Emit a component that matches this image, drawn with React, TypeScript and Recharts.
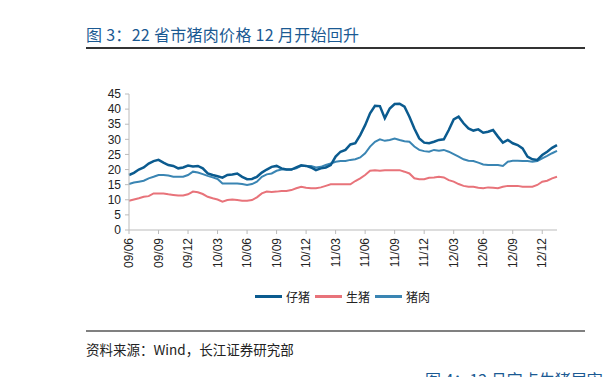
import React from "react";
import { LineChart, Line, XAxis, YAxis } from "recharts";

// 半月一个点，自 2009/06 起
const piglet = [
  18.2, 18.9, 20, 20.7, 22, 22.8, 23.2, 22.3, 21.5, 21.2, 20.4, 20.7, 21.3, 21, 21.2, 20.4,
  18.7, 18.2, 17.8, 17.3, 18.2, 18.4, 18.7, 17.6, 16.8, 16.9, 17.6, 19, 20, 20.9, 21.2, 20.4,
  20, 20, 20.7, 21.4, 21.2, 20.7, 19.8, 20.4, 20.7, 21.5, 24.3, 25.9, 26.5, 28.3, 28.7, 31.4,
  34.7, 38.6, 41.1, 41, 37, 40.2, 41.7, 41.8, 40.8, 37.5, 33.6, 30.3, 28.9, 28.7, 29.2, 29.8,
  30, 33.1, 36.6, 37.5, 35.3, 33.6, 32.9, 33.3, 32.2, 32.5, 33.1, 30.9, 28.9, 29.8, 28.7, 28.1,
  27, 24.3, 23.4, 23.2, 24.8, 25.9, 27.2, 28.1,
];
const hog = [
  9.7, 10.1, 10.5, 11, 11.2, 12.1, 12.1, 12.1, 11.8, 11.6, 11.4, 11.4, 11.8, 12.7, 12.5, 11.9,
  11, 10.5, 10.1, 9.4, 9.9, 10.1, 9.9, 9.7, 9.7, 9.9, 10.8, 12.1, 12.7, 12.6, 12.7, 12.9,
  12.9, 13.2, 13.8, 14.3, 14, 13.8, 13.8, 14.1, 14.6, 15.1, 15.1, 15.1, 15.1, 15.1, 16.2, 17.1,
  18.2, 19.6, 19.8, 19.6, 19.8, 19.8, 19.8, 19.8, 19.3, 18.7, 17.1, 16.8, 16.8, 17.3, 17.4, 17.6,
  17.4, 16.5, 16, 15.2, 14.6, 14.3, 14.3, 14, 13.8, 14.1, 14, 13.8, 14.3, 14.6, 14.6, 14.6,
  14.3, 14.3, 14.3, 14.9, 16, 16.3, 17.1, 17.6,
];
const pork = [
  15.2, 15.7, 16, 16.3, 17.1, 17.6, 18.2, 18.2, 18, 17.6, 17.6, 17.6, 18.2, 19.3, 19, 18.5,
  17.9, 17.4, 16.9, 15.4, 15.4, 15.4, 15.4, 15.2, 14.9, 15.2, 16, 17.6, 18.4, 18.7, 19.6, 20,
  20, 20, 20.4, 21.2, 21.2, 21.2, 20.7, 20.9, 21.5, 22, 22.6, 22.8, 22.8, 23.2, 23.4, 24,
  25.4, 27.6, 29.2, 30, 29.5, 29.8, 30.3, 29.8, 29.4, 29.2, 27.6, 26.5, 26.1, 25.9, 26.5, 26.2,
  26.5, 25.9, 25.1, 24.3, 23.4, 22.9, 22.8, 22.3, 21.7, 21.5, 21.5, 21.5, 21.2, 22.6, 22.9, 22.9,
  22.8, 22.8, 22.6, 22.8, 23.7, 24.5, 25.4, 26.2,
];
const tickLabels = [
  "09/06", "09/09", "09/12", "10/03", "10/06", "10/09", "10/12", "11/03",
  "11/06", "11/09", "11/12", "12/03", "12/06", "12/09", "12/12",
];
const yTicks = [0, 5, 10, 15, 20, 25, 30, 35, 40, 45];

const data = piglet.map((v, i) => ({ m: i * 0.5, piglet: v, hog: hog[i], pork: pork[i] }));
const xTicks = tickLabels.map((_, i) => i * 3);

const C_PIGLET = "#0B5B8F";
const C_HOG = "#E8737A";
const C_PORK = "#3A85B3";
const CJK = "'Noto Sans CJK SC', sans-serif";
const LATIN = "'Liberation Sans', Arial, sans-serif";

const XTick = ({ x, y, payload }: any) => (
  <text
    x={x}
    y={y + 2}
    transform={`rotate(-90 ${x} ${y + 2})`}
    textAnchor="end"
    dy="0.35em"
    fontSize={12}
    fontFamily={LATIN}
    fill="#222"
  >
    {tickLabels[Math.round(payload.value / 3)]}
  </text>
);

const legend = [
  { name: "仔猪", color: C_PIGLET },
  { name: "生猪", color: C_HOG },
  { name: "猪肉", color: C_PORK },
];

export default function App() {
  return (
    <div
      style={{ position: "absolute", left: 0, top: 0, width: 604, height: 377, overflow: "hidden", background: "#fff" }}
    >
      <div style={{ position: "absolute", left: 86, top: 22, fontSize: 16, letterSpacing: 0.3, fontFamily: CJK, color: "#1B5A93", whiteSpace: "pre" }}>
        {"图 3：22 省市猪肉价格 12 月开始回升"}
      </div>
      <div style={{ position: "absolute", left: 86, top: 47, width: 499, height: 1.5, background: "#333" }} />

      <div style={{ position: "absolute", left: 0, top: 0 }}>
        <LineChart width={604} height={290} data={data} margin={{ top: 94, right: 47, left: 89, bottom: 20 }}>
          <XAxis
            dataKey="m"
            type="number"
            domain={[0, 43.5]}
            ticks={xTicks}
            interval={0}
            tick={<XTick />}
            tickSize={4}
            height={40}
            stroke="#bbb"
          />
          <YAxis
            domain={[0, 45]}
            ticks={yTicks}
            interval={0}
            width={40}
            tickSize={4}
            tickMargin={4}
            stroke="#bbb"
            tick={{ fontSize: 12, fontFamily: LATIN, fill: "#222" }}
          />
          <Line dataKey="hog" stroke={C_HOG} strokeWidth={2} dot={false} isAnimationActive={false} />
          <Line dataKey="pork" stroke={C_PORK} strokeWidth={2} dot={false} isAnimationActive={false} />
          <Line dataKey="piglet" stroke={C_PIGLET} strokeWidth={2.5} dot={false} isAnimationActive={false} />
        </LineChart>
      </div>

      <div style={{ position: "absolute", left: 255, top: 288, display: "flex", fontFamily: CJK, fontSize: 12, color: "#222" }}>
        {legend.map((l) => (
          <div key={l.name} style={{ display: "flex", alignItems: "center", width: 60 }}>
            <div style={{ width: 27, height: 2.5, background: l.color, marginRight: 4 }} />
            <span>{l.name}</span>
          </div>
        ))}
      </div>

      <div style={{ position: "absolute", left: 86, top: 330, width: 499, height: 1.5, background: "#808080" }} />
      <div style={{ position: "absolute", left: 86, top: 339, fontSize: 13.5, fontFamily: CJK, color: "#222", whiteSpace: "nowrap" }}>
        资料来源：Wind，长江证券研究部
      </div>
      <div style={{ position: "absolute", left: 425, top: 367, fontSize: 16, fontFamily: CJK, color: "#1B5A93", whiteSpace: "nowrap" }}>
        图 4：12 月定点生猪屠宰量
      </div>
    </div>
  );
}
